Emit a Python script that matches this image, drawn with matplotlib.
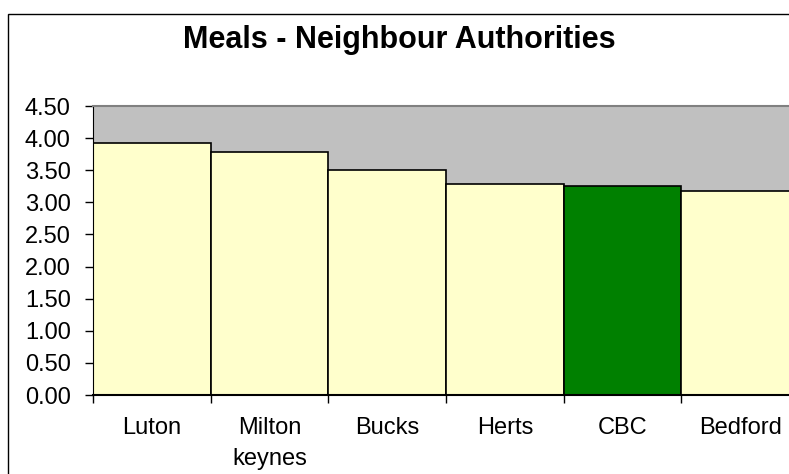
import matplotlib.pyplot as plt
from matplotlib.patches import Rectangle

plt.rcParams['font.family'] = ['Liberation Sans', 'DejaVu Sans']

# data
authorities = ['Luton', 'Milton\nkeynes', 'Bucks', 'Herts', 'CBC', 'Bedford']
meal_cost = [3.93, 3.78, 3.50, 3.28, 3.25, 3.18]
bar_colours = ['#FFFFCC', '#FFFFCC', '#FFFFCC', '#FFFFCC', '#008000', '#FFFFCC']
yticks = [0.0, 0.5, 1.0, 1.5, 2.0, 2.5, 3.0, 3.5, 4.0, 4.5]

W, H = 789, 474
fig = plt.figure(figsize=(W / 100, H / 100), dpi=100)

# chart frame (runs off the right and bottom of the picture)
fig.patches.append(Rectangle((8 / W, -0.2), 1.2, 1.2 - 14 / H,
                             transform=fig.transFigure, fill=False,
                             edgecolor='black', linewidth=1.0))

ax = fig.add_axes([93 / W, 1 - 395 / H, 706 / W, (395 - 106) / H])
ax.set_facecolor('#C0C0C0')

pos = list(range(len(authorities)))
ax.bar(pos, meal_cost, width=1.0, color=bar_colours,
       edgecolor='black', linewidth=1.2, zorder=2)

ax.set_xlim(-0.5, len(authorities) - 0.5)
ax.set_ylim(0, 4.5)
ax.set_yticks(yticks)
ax.set_yticklabels(['%.2f' % v for v in yticks])

ax.set_xticks(pos)
ax.set_xticklabels(authorities)
ax.set_xticks([p - 0.5 for p in pos] + [len(pos) - 0.5], minor=True)
ax.tick_params(axis='x', which='major', length=0, pad=16, labelsize=17)
ax.tick_params(axis='x', which='minor', length=6, width=1, color='black')
ax.tick_params(axis='y', length=6, width=1, pad=10, labelsize=17)

for lab in ax.get_xticklabels():
    lab.set_linespacing(1.5)

ax.spines['top'].set_color('#808080')
ax.spines['top'].set_linewidth(1.5)
ax.spines['right'].set_visible(False)
ax.spines['left'].set_color('black')
ax.spines['bottom'].set_color('black')
ax.spines['bottom'].set_linewidth(1.5)
ax.spines['bottom'].set_zorder(3)

fig.text(399 / W, 1 - 40 / H, 'Meals - Neighbour Authorities',
         ha='center', va='center', fontsize=22, fontweight='bold')

fig.savefig('out.png', dpi=100)
